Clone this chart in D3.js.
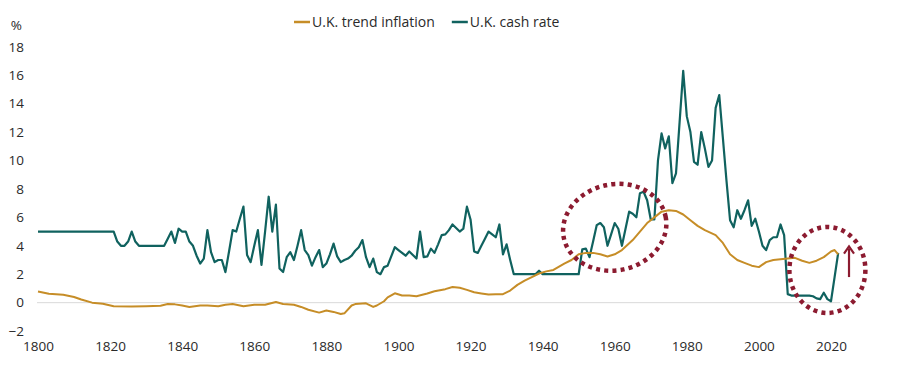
<!DOCTYPE html>
<html>
<head>
<meta charset="utf-8">
<script src="https://cdn.jsdelivr.net/npm/d3@7"></script>
<style>
  body { margin: 0; background: #fff; }
  text { font-family: "Open Sans", "Noto Sans", sans-serif; fill: #2a2a2a; }
</style>
</head>
<body>
<div id="chart"></div>
<script>
//series names
var seriesNames = ["U.K. trend inflation", "U.K. cash rate"];

//cash rate, one value per year starting in 1800
var cashStartYear = 1800;
var cashRate = [
  5.0, 5.0, 5.0, 5.0, 5.0, 5.0, 5.0, 5.0, 5.0, 5.0,   //1800
  5.0, 5.0, 5.0, 5.0, 5.0, 5.0, 5.0, 5.0, 5.0, 5.0,   //1810
  5.0, 5.0, 4.3, 4.0, 4.0, 4.3, 5.0, 4.3, 4.0, 4.0,   //1820
  4.0, 4.0, 4.0, 4.0, 4.0, 4.0, 4.5, 5.0, 4.2, 5.2,   //1830
  5.0, 5.0, 4.3, 4.0, 3.3, 2.75, 3.1, 5.1, 3.55, 2.85, //1840
  3.0, 3.0, 2.15, 3.6, 5.1, 5.0, 5.9, 6.75, 3.35, 2.85, //1850
  4.0, 5.1, 2.65, 5.0, 7.45, 5.0, 6.9, 2.4, 2.15, 3.2, //1860
  3.55, 3.0, 4.0, 5.1, 3.7, 3.35, 2.6, 3.2, 3.7, 2.5,  //1870
  2.75, 3.4, 4.15, 3.25, 2.85, 3.0, 3.1, 3.3, 3.65, 3.9, //1880
  4.4, 3.2, 2.5, 3.1, 2.15, 2.0, 2.5, 2.6, 3.25, 3.9,  //1890
  3.7, 3.5, 3.3, 3.6, 3.35, 3.1, 5.0, 3.2, 3.25, 3.8,  //1900
  3.5, 4.1, 4.75, 4.8, 5.1, 5.5, 5.25, 5.0, 5.2, 6.75, //1910
  5.85, 3.6, 3.5, 4.0, 4.5, 5.0, 4.8, 4.6, 5.5, 3.4,   //1920
  4.1, 3.0, 2.0, 2.0, 2.0, 2.0, 2.0, 2.0, 2.0, 2.25,   //1930
  2.0, 2.0, 2.0, 2.0, 2.0, 2.0, 2.0, 2.0, 2.0, 2.0,    //1940
  2.0, 3.75, 3.8, 3.2, 4.3, 5.45, 5.6, 5.3, 4.0, 4.8,  //1950
  5.6, 5.2, 4.0, 5.2, 6.4, 6.25, 6.0, 7.7, 7.8, 7.2,   //1960
  5.85, 5.85, 10.0, 11.9, 10.85, 11.7, 8.4, 9.1, 12.7, 16.3, //1970
  13.1, 12.0, 9.9, 9.7, 12.0, 10.85, 9.55, 10.0, 13.7, 14.6, //1980
  11.6, 8.6, 5.8, 5.3, 6.5, 5.9, 6.5, 7.2, 5.4, 5.9,   //1990
  5.0, 4.0, 3.7, 4.4, 4.6, 4.6, 5.5, 4.75, 0.6, 0.5,   //2000
  0.5, 0.5, 0.5, 0.5, 0.5, 0.45, 0.3, 0.25, 0.7, 0.25, //2010
  0.1, 1.8, 3.5                                        //2020
];

//trend inflation, read at irregular years
var inflationYears = [
  1800, 1803, 1807, 1810, 1812, 1815, 1818, 1821, 1826, 1830,
  1834, 1836, 1838, 1840, 1842, 1845, 1847, 1850, 1852, 1854,
  1857, 1860, 1863, 1866, 1868, 1871, 1873, 1875, 1878, 1880,
  1882, 1884, 1885, 1887, 1888, 1891, 1893, 1894, 1896, 1897,
  1899, 1901, 1903, 1905, 1908, 1910, 1913, 1915, 1917, 1919,
  1921, 1923, 1925, 1927, 1929, 1931, 1933, 1935, 1937, 1939,
  1941, 1943, 1946, 1948, 1950, 1952, 1954, 1956, 1958, 1960,
  1962, 1965, 1967, 1969, 1971, 1973, 1975, 1977, 1979, 1981,
  1983, 1985, 1988, 1990, 1992, 1994, 1996, 1998, 2000, 2002,
  2004, 2006, 2008, 2010, 2012, 2014, 2016, 2018, 2020, 2021,
  2022
];
var inflationValues = [
  0.78, 0.62, 0.55, 0.4, 0.22, 0.0, -0.08, -0.25, -0.27, -0.25,
  -0.22, -0.1, -0.12, -0.2, -0.3, -0.2, -0.2, -0.25, -0.15, -0.1,
  -0.25, -0.15, -0.15, 0.05, -0.1, -0.15, -0.3, -0.5, -0.7, -0.55,
  -0.65, -0.8, -0.75, -0.2, -0.1, -0.05, -0.3, -0.2, 0.1, 0.37,
  0.66, 0.5, 0.5, 0.45, 0.65, 0.8, 0.95, 1.1, 1.05, 0.9,
  0.73, 0.65, 0.57, 0.6, 0.6, 0.85, 1.25, 1.55, 1.8, 2.05,
  2.2, 2.3, 2.75, 3.0, 3.4, 3.5, 3.5, 3.4, 3.25, 3.4,
  3.7, 4.4, 5.0, 5.6, 6.0, 6.4, 6.5, 6.45, 6.2, 5.8,
  5.4, 5.1, 4.75, 4.2, 3.4, 3.0, 2.8, 2.6, 2.5, 2.85,
  3.0, 3.05, 3.1, 3.15, 2.95, 2.8, 2.95, 3.2, 3.6, 3.7,
  3.4
];

//axis ticks
var xTicks = [1800, 1820, 1840, 1860, 1880, 1900, 1920, 1940, 1960, 1980, 2000, 2020];
var yTicks = [-2, 0, 2, 4, 6, 8, 10, 12, 14, 16, 18];

//colours
var colors = ["#c68d27", "#10625f"];
var annotationColor = "#8c1b30";

//building rows for d3.line
var cashData = cashRate.map(function(v, i) { return {year: cashStartYear + i, value: v}; });
var inflationData = inflationYears.map(function(yr, i) { return {year: yr, value: inflationValues[i]}; });

//setting dimensions
var width = 904, height = 368;

var svg = d3.select("#chart")
  .append("svg")
  .attr("width", width)
  .attr("height", height);

//scales
var xScale = d3.scaleLinear().domain([1800, 2022.5]).range([38, 840]);
var yScale = d3.scaleLinear().domain([-2, 18]).range([331.1, 46.7]);

//zero line
svg.append("line")
  .attr("x1", xScale(1800) - 1)
  .attr("x2", xScale(2022.5))
  .attr("y1", yScale(0))
  .attr("y2", yScale(0))
  .attr("stroke", "#d9d9d9")
  .attr("stroke-width", 1);

//y axis labels
svg.append("g")
  .attr("transform", "translate(24,0)")
  .call(d3.axisLeft(yScale).tickValues(yTicks).tickSize(0).tickPadding(0))
  .call(function(g) { g.select(".domain").remove(); })
  .selectAll("text")
  .style("font-size", "13.5px")
  .style("font-family", "'Open Sans', 'Noto Sans', sans-serif")
  .attr("fill", "#2a2a2a");

//% unit
svg.append("text")
  .attr("x", 22)
  .attr("y", yScale(18) - 17)
  .attr("text-anchor", "end")
  .style("font-size", "13.5px")
  .text("%");

//x axis labels
svg.append("g")
  .attr("transform", "translate(0,341)")
  .call(d3.axisBottom(xScale).tickValues(xTicks).tickFormat(d3.format("d")).tickSize(0).tickPadding(0))
  .call(function(g) { g.select(".domain").remove(); })
  .selectAll("text")
  .style("font-size", "13.5px")
  .style("font-family", "'Open Sans', 'Noto Sans', sans-serif")
  .attr("fill", "#2a2a2a");

//line generator
var line = d3.line()
  .x(function(d) { return xScale(d.year); })
  .y(function(d) { return yScale(d.value); });

//cash rate line
svg.append("path")
  .datum(cashData)
  .attr("fill", "none")
  .attr("stroke", colors[1])
  .attr("stroke-width", 2.2)
  .attr("stroke-linejoin", "round")
  .attr("d", line);

//inflation line
svg.append("path")
  .datum(inflationData)
  .attr("fill", "none")
  .attr("stroke", colors[0])
  .attr("stroke-width", 2)
  .attr("stroke-linejoin", "round")
  .attr("d", line);

//dotted ellipses
var ellipses = [
  {year: 1960, value: 5.3, rx: 52, ry: 43, rot: -12},
  {year: 2019, value: 2.3, rx: 38, ry: 43, rot: 0}
];
svg.selectAll(".ring")
  .data(ellipses)
  .enter().append("ellipse")
  .attr("class", "ring")
  .attr("cx", 0)
  .attr("cy", 0)
  .attr("rx", function(d) { return d.rx; })
  .attr("ry", function(d) { return d.ry; })
  .attr("transform", function(d) {
    return "translate(" + xScale(d.year) + "," + yScale(d.value) + ") rotate(" + d.rot + ")";
  })
  .attr("fill", "none")
  .attr("stroke", annotationColor)
  .attr("stroke-width", 4.5)
  .attr("stroke-dasharray", "4,4.2");

//arrow
var ax = xScale(2025);
svg.append("line")
  .attr("x1", ax).attr("x2", ax)
  .attr("y1", yScale(1.8)).attr("y2", yScale(3.8))
  .attr("stroke", annotationColor)
  .attr("stroke-width", 2.2);
svg.append("path")
  .attr("d", "M" + (ax - 5) + "," + (yScale(3.45)) + "L" + ax + "," + yScale(3.95) + "L" + (ax + 5) + "," + yScale(3.45))
  .attr("fill", "none")
  .attr("stroke", annotationColor)
  .attr("stroke-width", 2.2);

//legend
var legend = svg.append("g").attr("transform", "translate(0,22)");
var lx = 294;
seriesNames.forEach(function(name, i) {
  legend.append("line")
    .attr("x1", lx).attr("x2", lx + 16)
    .attr("y1", 0).attr("y2", 0)
    .attr("stroke", colors[i])
    .attr("stroke-width", 2.5);
  var t = legend.append("text")
    .attr("x", lx + 18)
    .attr("y", 0)
    .attr("dy", "0.35em")
    .style("font-size", "14px")
    .text(name);
  lx = lx + 18 + t.node().getComputedTextLength() + 17;
});
</script>
</body>
</html>
